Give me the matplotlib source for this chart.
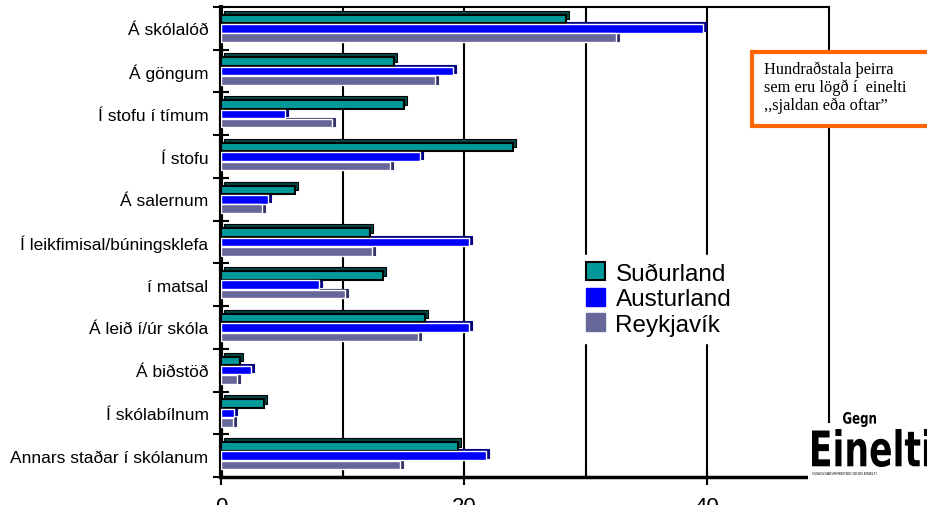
import numpy as np
import matplotlib
matplotlib.use("Agg")
import matplotlib.pyplot as plt
from matplotlib.transforms import ScaledTranslation, Affine2D
from matplotlib.patches import Rectangle, PathPatch, Patch
from matplotlib.textpath import TextPath
from matplotlib.font_manager import FontProperties

categories = ["Á skólalóð", "Á göngum", "Í stofu í tímum", "Í stofu", "Á salernum",
              "Í leikfimisal/búningsklefa", "í matsal", "Á leið í/úr skóla", "Á biðstöð",
              "Í skólabílnum", "Annars staðar í skólanum"]
sudurland = [28.4, 14.2, 15.1, 24.0, 6.1, 12.3, 13.3, 16.8, 1.6, 3.5, 19.5]
austurland = [39.7, 19.1, 5.3, 16.4, 3.9, 20.4, 8.1, 20.4, 2.5, 1.1, 21.8]
reykjavik = [32.5, 17.6, 9.1, 13.9, 3.4, 12.4, 10.2, 16.2, 1.3, 1.0, 14.7]
series_names = ["Suðurland", "Austurland", "Reykjavík"]
xticks_major = [0, 20, 40]
xticks_minor = [10, 30]

plt.rcParams['font.family'] = ['Liberation Sans', 'DejaVu Sans']

W, H = 927, 506
fig = plt.figure(figsize=(W / 100, H / 100), dpi=100)
ax = fig.add_axes([221 / W, 1 - 478 / H, (828.5 - 221) / W, (478 - 8) / H])

y = np.arange(len(categories))
bh = 0.2
offs = [-0.22, 0.0, 0.22]
faces = ["#009999", "#0000FF", "#666699"]
darks = ["#004848", "#000080", "#333366"]
edges = ["black", "white", "white"]
shifts = [(3, 4), (3, 2), (3, 1)]
series = [sudurland, austurland, reykjavik]

for k, vals in enumerate(series):
    dx, dy = shifts[k]
    tr = ax.transData + ScaledTranslation(dx / 100, dy / 100, fig.dpi_scale_trans)
    sh = ax.barh(y + offs[k], vals, height=bh, color=darks[k],
                 edgecolor="black" if k == 0 else darks[k], linewidth=0.8, zorder=2)
    for p in sh:
        p.set_transform(tr)
    ax.barh(y + offs[k], vals, height=bh, color=faces[k], edgecolor=edges[k],
            linewidth=1.5 if k == 0 else 1.0, zorder=3)

for gx in xticks_minor + xticks_major[1:]:
    ax.axvline(gx, color="black", lw=1.5, zorder=1)

ax.set_xlim(0, 50)
ax.set_ylim(len(categories) - 0.5, -0.5)

ax.set_yticks(y)
ax.set_yticklabels(categories, fontsize=12.5)
ax.set_yticks(np.arange(len(categories) + 1) - 0.5, minor=True)
ax.tick_params(axis="y", which="major", length=0, pad=9)
ax.tick_params(axis="y", which="minor", direction="inout", length=12, width=1.5)

ax.set_xticks(xticks_major)
ax.set_xticks(xticks_minor, minor=True)
ax.set_xticklabels([str(v) for v in xticks_major], fontsize=16)
ax.tick_params(axis="x", which="major", direction="inout", length=12, width=1.5, pad=8)
ax.tick_params(axis="x", which="minor", direction="in", length=5, width=1.5)

ax.spines["left"].set_linewidth(3)
ax.spines["bottom"].set_linewidth(2.5)
ax.spines["top"].set_linewidth(1.5)
ax.spines["right"].set_linewidth(1.5)

handles = [Patch(facecolor=faces[0], edgecolor="black", linewidth=1.5),
           Patch(facecolor=faces[1], edgecolor=faces[1]),
           Patch(facecolor=faces[2], edgecolor=faces[2])]
leg = ax.legend(handles, series_names, loc="upper left",
                bbox_to_anchor=(579 / W, 1 - 256 / H), bbox_transform=fig.transFigure,
                frameon=True, fontsize=17.5, handlelength=0.75, handleheight=0.75,
                handletextpad=0.45, labelspacing=0.13, borderpad=0.3, borderaxespad=0)
leg.get_frame().set_edgecolor("white")
leg.get_frame().set_facecolor("white")
leg.get_frame().set_alpha(1)
leg.set_zorder(10)

# annotation box
fig.patches.append(Rectangle((752 / W, 1 - 127 / H), 200 / W, 74 / H,
                             transform=fig.transFigure, facecolor="white",
                             edgecolor="#FF6600", lw=3, zorder=20))
txt = "Hundraðstala þeirra\nsem eru lögð í  einelti\n,,sjaldan eða oftar\u201d"
fig.text(764 / W, 1 - 62 / H, txt, fontsize=11.8, family=["Liberation Serif", "DejaVu Serif"],
         va="top", ha="left", linespacing=1.1, zorder=21)

# logo
fig.patches.append(Rectangle((808 / W, 0), 130 / W, (506 - 424) / H,
                             transform=fig.transFigure, facecolor="white",
                             edgecolor="none", zorder=20))
fp = FontProperties(family="DejaVu Sans", weight="bold")
def draw_word(s, x0, y0, w, h, zorder=21):
    tp = TextPath((0, 0), s, size=10, prop=fp)
    ext = tp.get_extents()
    sx = w / ext.width
    sy = h / ext.height
    t = Affine2D().translate(-ext.x0, -ext.y0).scale(sx, sy).translate(x0, H - y0)
    path = t.transform_path(tp)
    pp = PathPatch(path, facecolor="black", edgecolor="none", zorder=zorder,
                   transform=Affine2D().scale(1 / W, 1 / H) + fig.transFigure)
    fig.patches.append(pp)
draw_word("Gegn", 843, 428, 33, 15)
draw_word("Einelti", 812, 468, 118, 38)
fig.text(812 / W, 1 - 474 / H, "OLWEUSARVERKEFNID GEGN EINELTI", fontsize=2.5,
         color="black", va="center", ha="left", zorder=22)

fig.savefig("out.png", dpi=100)
